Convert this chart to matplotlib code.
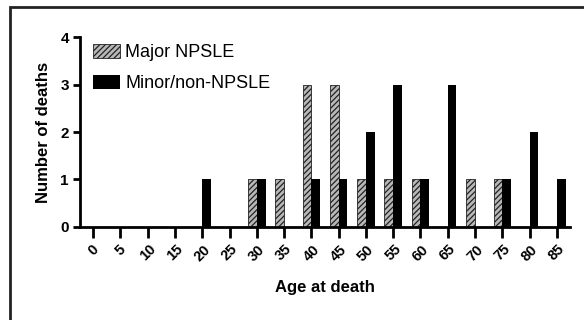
import numpy as np
import matplotlib.pyplot as plt
from matplotlib.patches import Rectangle

# 年龄分组与两组死亡人数
ages = ['0', '5', '10', '15', '20', '25', '30', '35', '40', '45',
        '50', '55', '60', '65', '70', '75', '80', '85']
major = [0, 0, 0, 0, 0, 0, 1, 1, 3, 3, 1, 1, 1, 0, 1, 1, 0, 0]
minor = [0, 0, 0, 0, 1, 0, 1, 0, 1, 1, 2, 3, 1, 3, 0, 1, 2, 1]
y_ticks = [0, 1, 2, 3, 4]

plt.rcParams['font.family'] = ['Liberation Sans', 'DejaVu Sans']
plt.rcParams['hatch.linewidth'] = 0.9

fig = plt.figure(figsize=(5.84, 3.2), dpi=100)
ax = fig.add_axes([0.137, 0.291, 0.839, 0.593])

x = np.arange(len(ages))
w = 0.32
ax.bar(x - w / 2, major, width=w, facecolor='#b8b8b8', edgecolor='#222222',
       hatch='//////', linewidth=0.6, label='Major NPSLE')
ax.bar(x + w / 2, minor, width=w, color='black', label='Minor/non-NPSLE')

ax.set_xlim(-0.48, 17.48)
ax.set_ylim(0, 4)
ax.set_xticks(x)
ax.set_xticklabels(ages, rotation=45, ha='center', fontsize=10.5, fontweight='bold')
ax.set_yticks(y_ticks)
ax.set_yticklabels([str(v) for v in y_ticks], fontsize=11, fontweight='bold')

for s in ['top', 'right']:
    ax.spines[s].set_visible(False)
for s in ['left', 'bottom']:
    ax.spines[s].set_linewidth(2)
ax.tick_params(axis='x', length=8, width=2, pad=3)
ax.tick_params(axis='y', length=5, width=2, pad=3)

ax.set_ylabel('Number of deaths', fontsize=12, fontweight='bold', labelpad=7)
ax.set_xlabel('Age at death', fontsize=12, fontweight='bold', labelpad=12)

ax.legend(loc='upper left', bbox_to_anchor=(0.0, 1.03), frameon=False,
          fontsize=13, handlelength=1.5, handleheight=0.8, labelspacing=0.75,
          handletextpad=0.3, borderaxespad=0.3)

# 外框
fig.add_artist(Rectangle((10 / 584, -0.1), 1.2, 1 - 7 / 320 + 0.1,
                         transform=fig.transFigure, fill=False,
                         edgecolor='#222222', linewidth=2))

plt.savefig('out.png', dpi=100)
